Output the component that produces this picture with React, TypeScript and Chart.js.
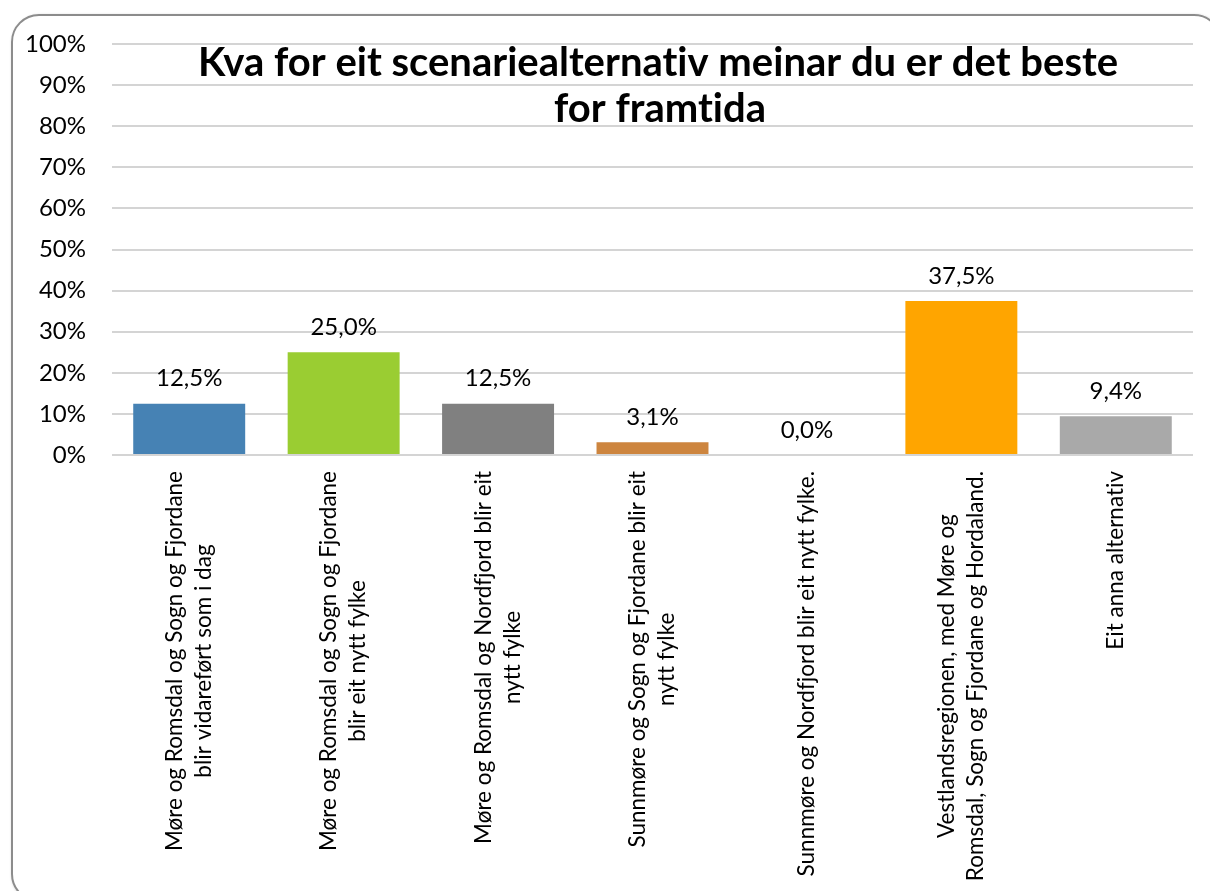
import React, { useEffect, useRef } from "react";
import { Chart, registerables } from "chart.js";

Chart.register(...registerables);

const categories: string[][] = [
  ["Møre og Romsdal og Sogn og Fjordane", "blir vidareført som i dag"],
  ["Møre og Romsdal og Sogn og Fjordane", "blir eit nytt fylke"],
  ["Møre og Romsdal og Nordfjord blir eit", "nytt fylke"],
  ["Sunnmøre og Sogn og Fjordane blir eit", "nytt fylke"],
  ["Sunnmøre og Nordfjord blir eit nytt fylke."],
  ["Vestlandsregionen, med Møre og", "Romsdal, Sogn og Fjordane og Hordaland."],
  ["Eit anna alternativ"],
];

const values: number[] = [12.5, 25.0, 12.5, 3.1, 0.0, 37.5, 9.4];

const barColors: string[] = [
  "#4682B4",
  "#9ACD32",
  "#808080",
  "#CD853F",
  "#FF69B4",
  "#FFA500",
  "#A9A9A9",
];

const yTicks: number[] = [0, 10, 20, 30, 40, 50, 60, 70, 80, 90, 100];

const titleLines: string[] = [
  "Kva for eit scenariealternativ meinar du er det beste",
  "for framtida",
];

const FONT = "Lato, 'Open Sans', sans-serif";

const noLig = (ctx: any) => {
  try {
    ctx.textRendering = "optimizeSpeed";
  } catch (e) {}
};

const titlePlugin = {
  id: "customTitle",
  afterDraw(chart: any) {
    const ctx = chart.ctx;
    ctx.save();
    noLig(ctx);
    ctx.fillStyle = "#000";
    ctx.font = `bold 40px ${FONT}`;
    ctx.textAlign = "center";
    ctx.textBaseline = "middle";
    const cx = 658;
    ctx.fillText(titleLines[0], cx, 63);
    ctx.fillText(titleLines[1], cx + 2, 109);
    ctx.restore();
  },
};

const dataLabelPlugin = {
  id: "dataLabels",
  afterDatasetsDraw(chart: any) {
    const ctx = chart.ctx;
    const meta = chart.getDatasetMeta(0);
    const yScale = chart.scales.y;
    ctx.save();
    noLig(ctx);
    ctx.fillStyle = "#000";
    ctx.font = `24px ${FONT}`;
    ctx.textAlign = "center";
    ctx.textBaseline = "middle";
    meta.data.forEach((bar: any, i: number) => {
      const v = values[i];
      const top = yScale.getPixelForValue(v);
      ctx.fillText(v.toFixed(1).replace(".", ",") + "%", bar.x, top - 25);
    });
    ctx.restore();
  },
};

const xLabelPlugin = {
  id: "xLabels",
  afterDraw(chart: any) {
    const ctx = chart.ctx;
    const xScale = chart.scales.x;
    const top = chart.chartArea.bottom + 16;
    const lineH = 29;
    ctx.save();
    noLig(ctx);
    ctx.fillStyle = "#000";
    ctx.font = `22.5px ${FONT}`;
    ctx.textAlign = "center";
    ctx.textBaseline = "middle";
    categories.forEach((lines, i) => {
      const x = xScale.getPixelForValue(i);
      const w = Math.max(...lines.map((l) => ctx.measureText(l).width));
      ctx.save();
      ctx.translate(x, top);
      ctx.rotate(-Math.PI / 2);
      const n = lines.length;
      lines.forEach((l, j) => {
        ctx.fillText(l, -w / 2, (j - (n - 1) / 2) * lineH);
      });
      ctx.restore();
    });
    ctx.restore();
  },
};

export default function App() {
  const ref = useRef<HTMLCanvasElement | null>(null);

  useEffect(() => {
    document.body.style.margin = "0";
    const canvas = ref.current;
    if (!canvas) return;
    const chart = new Chart(canvas, {
      type: "bar",
      data: {
        labels: categories.map((c) => c.join(" ")),
        datasets: [
          {
            data: values,
            backgroundColor: barColors,
            borderWidth: 0,
            barPercentage: 0.725,
            categoryPercentage: 1,
          },
        ],
      },
      options: {
        responsive: false,
        animation: false,
        devicePixelRatio: 1,
        layout: { padding: { left: 0, top: 44, right: 17, bottom: 0 } },
        plugins: {
          legend: { display: false },
          title: { display: false },
          tooltip: { enabled: false },
        },
        scales: {
          x: {
            grid: { display: false, drawTicks: false },
            border: { display: false },
            ticks: { display: false },
            afterFit(scale: any) {
              scale.height = 891 - 455;
            },
          },
          y: {
            min: 0,
            max: 100,
            afterBuildTicks(scale: any) {
              scale.ticks = yTicks.map((v) => ({ value: v }));
            },
            grid: {
              color: "#d4d4d4",
              lineWidth: 2,
              drawTicks: false,
            },
            border: { display: false },
            ticks: {
              padding: 26,
              color: "#000",
              font: { family: FONT, size: 24 },
              callback: (v: any) => v + "%",
            },
            afterFit(scale: any) {
              scale.width = 112;
            },
          },
        },
      },
      plugins: [dataLabelPlugin, xLabelPlugin, titlePlugin],
    });
    return () => chart.destroy();
  }, []);

  return (
    <div
      style={{
        position: "fixed",
        left: 0,
        top: 0,
        width: 1210,
        height: 891,
        overflow: "hidden",
        background: "#fff",
      }}
    >
      <div
        style={{
          position: "absolute",
          left: 11,
          top: 14,
          width: 1211,
          height: 888,
          border: "2px solid #8c8c8c",
          borderRadius: 28,
          boxShadow: "1px 1px 3px rgba(0,0,0,0.25)",
          boxSizing: "border-box",
        }}
      />
      <canvas
        ref={ref}
        width={1210}
        height={891}
        style={{ position: "absolute", left: 0, top: 0 }}
      />
    </div>
  );
}
